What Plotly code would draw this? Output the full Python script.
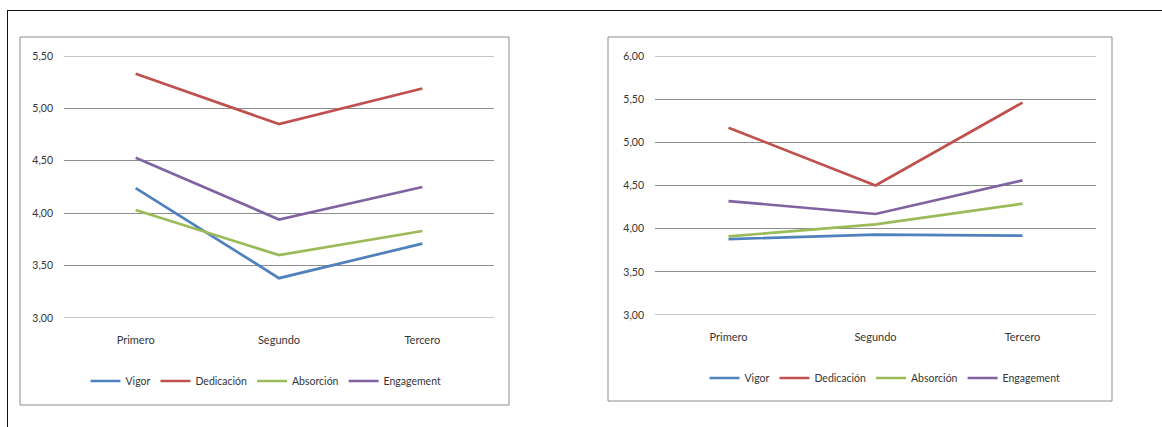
import plotly.graph_objects as go

W, H = 1162, 427

categorias = ["Primero", "Segundo", "Tercero"]
series = ["Vigor", "Dedicación", "Absorción", "Engagement"]
colores = ["#4F81BD", "#C0504D", "#9BBB59", "#8064A2"]

# Grupo 1
vigor_1 = [4.24, 3.38, 3.71]
dedicacion_1 = [5.33, 4.85, 5.19]
absorcion_1 = [4.03, 3.60, 3.83]
engagement_1 = [4.53, 3.94, 4.25]

# Grupo 2
vigor_2 = [3.88, 3.93, 3.92]
dedicacion_2 = [5.17, 4.50, 5.46]
absorcion_2 = [3.91, 4.05, 4.29]
engagement_2 = [4.32, 4.17, 4.56]

grupo_1 = [vigor_1, dedicacion_1, absorcion_1, engagement_1]
grupo_2 = [vigor_2, dedicacion_2, absorcion_2, engagement_2]

# Rangos de los ejes de valores
rango_1 = [3.0, 5.5]
rango_2 = [3.0, 6.0]

FONT = "Lato"
TXT = "#353535"
GRID = "#8e8e8e"


def px(x):
    return x / W


def py(y):
    return 1 - y / H


fig = go.Figure()

for nombre, color, vals in zip(series, colores, grupo_1):
    fig.add_trace(go.Scatter(
        x=categorias, y=vals, name=nombre, mode="lines",
        line=dict(color=color, width=2.7),
        xaxis="x", yaxis="y", legend="legend",
    ))

for nombre, color, vals in zip(series, colores, grupo_2):
    fig.add_trace(go.Scatter(
        x=categorias, y=vals, name=nombre, mode="lines",
        line=dict(color=color, width=2.7),
        xaxis="x2", yaxis="y2", legend="legend2",
    ))

xcommon = dict(
    type="category", range=[-0.5, 2.5], showgrid=False, zeroline=False,
    showline=False, ticks="", ticklabelstandoff=14,
    tickfont=dict(family=FONT, size=11, color=TXT), fixedrange=True,
)
ycommon = dict(
    showgrid=True, gridcolor=GRID, gridwidth=1, zeroline=False,
    showline=False, ticks="", tickformat=".2f", tick0=3, dtick=0.5,
    ticklabelstandoff=10,
    tickfont=dict(family=FONT, size=10.5, color=TXT), fixedrange=True,
)

legend_common = dict(
    orientation="h", xanchor="center", yanchor="middle",
    font=dict(family=FONT, size=10.5, color=TXT),
    bgcolor="rgba(0,0,0,0)", itemwidth=30, tracegroupgap=0,
)

fig.update_layout(
    width=W, height=H,
    margin=dict(l=0, r=0, t=0, b=0, autoexpand=False),
    paper_bgcolor="white", plot_bgcolor="white",
    separators=",.",
    xaxis=dict(domain=[px(64), px(494)], anchor="y", **xcommon),
    yaxis=dict(domain=[py(318), py(56)], anchor="x", range=rango_1, **ycommon),
    xaxis2=dict(domain=[px(655), px(1096)], anchor="y2", **xcommon),
    yaxis2=dict(domain=[py(315), py(56)], anchor="x2", range=rango_2, **ycommon),
    legend=dict(x=px(266), y=py(381), **legend_common),
    legend2=dict(x=px(885), y=py(378), **legend_common),
    showlegend=True,
)

# Líneas de cuadrícula en los extremos del rango
for xr, yr, rango in (("x", "y", rango_1), ("x2", "y2", rango_2)):
    for v in rango:
        fig.add_shape(type="line", xref=f"{xr} domain", yref=yr,
                      x0=0, x1=1, y0=v, y1=v,
                      line=dict(color=GRID, width=1), layer="below")

# Marcos de cada gráfico
fig.add_shape(type="rect", xref="paper", yref="paper",
              x0=px(20), x1=px(509), y0=py(405), y1=py(37),
              line=dict(color="#8c8c8c", width=1), layer="below")
fig.add_shape(type="rect", xref="paper", yref="paper",
              x0=px(608), x1=px(1112), y0=py(401), y1=py(37),
              line=dict(color="#8c8c8c", width=1), layer="below")

# Marco exterior (borde superior e izquierdo)
fig.add_shape(type="line", xref="paper", yref="paper",
              x0=px(7), x1=1, y0=py(10.5), y1=py(10.5),
              line=dict(color="#111111", width=1))
fig.add_shape(type="line", xref="paper", yref="paper",
              x0=px(7.5), x1=px(7.5), y0=0, y1=py(10),
              line=dict(color="#111111", width=1))

fig.write_html("out.html")
